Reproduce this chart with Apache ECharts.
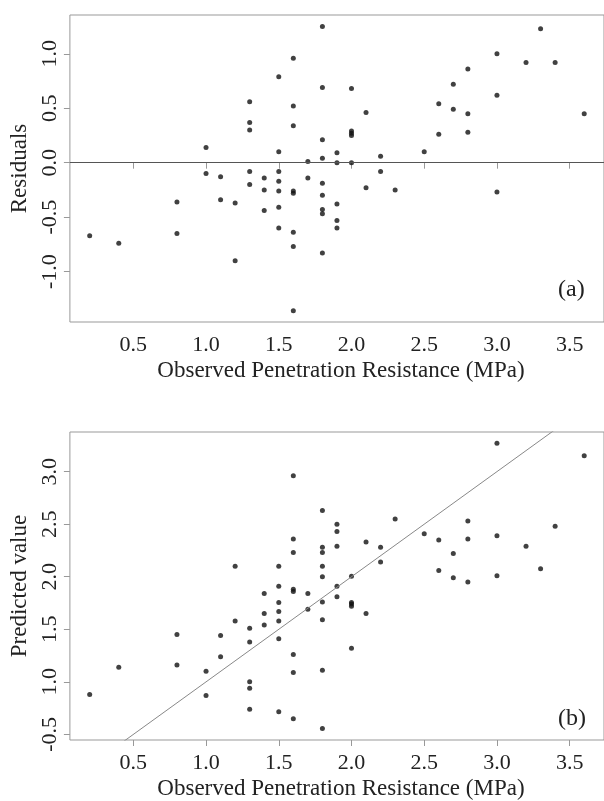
<!DOCTYPE html>
<html>
<head>
<meta charset="utf-8">
<script src="https://cdn.jsdelivr.net/npm/echarts@6/dist/echarts.min.js"></script>
<style>
html,body{margin:0;padding:0;background:#fff;}
#chart{width:604px;height:801px;}
</style>
</head>
<body>
<div id="chart"></div>
<script>
// Observed penetration resistance (MPa), grouped by value
const observed = [
  0.2,
  0.4,
  0.8, 0.8,
  1.0, 1.0,
  1.1, 1.1,
  1.2, 1.2,
  1.3, 1.3, 1.3, 1.3, 1.3,
  1.4, 1.4, 1.4,
  1.5, 1.5, 1.5, 1.5, 1.5, 1.5, 1.5,
  1.6, 1.6, 1.6, 1.6, 1.6, 1.6, 1.6, 1.6,
  1.7, 1.7,
  1.8, 1.8, 1.8, 1.8, 1.8, 1.8, 1.8, 1.8, 1.8,
  1.9, 1.9, 1.9, 1.9, 1.9,
  2.0, 2.0, 2.0, 2.0, 2.0,
  2.1, 2.1,
  2.2, 2.2,
  2.3,
  2.5,
  2.6, 2.6,
  2.7, 2.7,
  2.8, 2.8, 2.8,
  3.0, 3.0, 3.0,
  3.2,
  3.3,
  3.4,
  3.6
];
// Residuals (panel a)
const residuals = [
  -0.67,
  -0.74,
  -0.36, -0.65,
  0.14, -0.10,
  -0.13, -0.34,
  -0.37, -0.90,
  0.56, 0.37, 0.30, -0.08, -0.20,
  -0.14, -0.25, -0.44,
  0.79, 0.10, -0.08, -0.17, -0.26, -0.41, -0.60,
  0.96, 0.52, 0.34, -0.26, -0.28, -0.64, -0.77, -1.36,
  0.01, -0.14,
  1.25, 0.69, 0.21, 0.04, -0.19, -0.30, -0.43, -0.47, -0.83,
  0.09, 0.00, -0.38, -0.53, -0.60,
  0.68, 0.29, 0.27, 0.25, 0.00,
  0.46, -0.23,
  0.06, -0.08,
  -0.25,
  0.10,
  0.54, 0.26,
  0.72, 0.49,
  0.86, 0.45, 0.28,
  1.00, 0.62, -0.27,
  0.92,
  1.23,
  0.92,
  0.45
];
// Predicted values (panel b)
const predicted = [
  0.88,
  1.14,
  1.16, 1.45,
  0.87, 1.10,
  1.24, 1.44,
  1.58, 2.10,
  0.74, 0.94, 1.00, 1.38, 1.51,
  1.54, 1.65, 1.84,
  0.715, 1.41, 1.58, 1.67, 1.755, 1.91, 2.10,
  0.65, 1.09, 1.26, 1.86, 1.88, 2.23, 2.36, 2.96,
  1.69, 1.84,
  0.556, 1.11, 1.59, 1.76, 2.00, 2.10, 2.23, 2.28, 2.63,
  1.81, 1.91, 2.29, 2.43, 2.50,
  1.32, 1.72, 1.74, 1.755, 2.005,
  1.65, 2.33,
  2.14, 2.28,
  2.55,
  2.41,
  2.06, 2.35,
  1.99, 2.22,
  1.95, 2.36, 2.53,
  2.01, 2.39, 3.27,
  2.29,
  2.075,
  2.48,
  3.15
];
// Tick values and labels
const xTicks = [0.5, 1.0, 1.5, 2.0, 2.5, 3.0, 3.5];
const xTickLabels = ['0.5', '1.0', '1.5', '2.0', '2.5', '3.0', '3.5'];
const yTicksA = [-1.0, -0.5, 0.0, 0.5, 1.0];
const yTickLabelsA = ['-1.0', '-0.5', '0.0', '0.5', '1.0'];
const yTicksB = [0.5, 1.0, 1.5, 2.0, 2.5, 3.0];
const yTickLabelsB = ['-0.5', '1.0', '1.5', '2.0', '2.5', '3.0'];
// Reference lines
const zeroLine = [0];
const oneToOne = [0, 4];

const xTitle = 'Observed Penetration Resistance (MPa)';
const yTitleA = 'Residuals';
const yTitleB = 'Predicted value';
const panelLabels = ['(a)', '(b)'];

const FONT = "'Liberation Serif', 'DejaVu Serif', serif";
const TXT = '#222';
const BOX = '#999';

function lbl(ticks, labels) {
  return function (v) {
    for (let i = 0; i < ticks.length; i++) {
      if (Math.abs(ticks[i] - v) < 1e-6) return labels[i];
    }
    return '';
  };
}

function xAxis(gridIndex) {
  return {
    type: 'value', gridIndex: gridIndex,
    min: 0.064, max: 3.736,
    name: xTitle, nameLocation: 'middle', nameGap: 37,
    nameTextStyle: { fontFamily: FONT, fontSize: 23, color: TXT, padding: [0, 0, 0, 8] },
    axisLine: { show: false },
    axisTick: { show: true, length: 6, inside: false, customValues: xTicks, lineStyle: { color: BOX } },
    axisLabel: { show: true, customValues: xTicks, formatter: lbl(xTicks, xTickLabels),
      fontFamily: FONT, fontSize: 22, color: TXT, margin: 12 },
    splitLine: { show: false }
  };
}
function yAxis(gridIndex, min, max, ticks, labels, title) {
  return {
    type: 'value', gridIndex: gridIndex,
    min: min, max: max,
    name: title, nameLocation: 'middle', nameGap: 36, nameRotate: 90,
    nameTextStyle: { fontFamily: FONT, fontSize: 23, color: TXT },
    axisLine: { show: false },
    axisTick: { show: true, length: 6, customValues: ticks, lineStyle: { color: BOX } },
    axisLabel: { show: true, rotate: 90, customValues: ticks, formatter: lbl(ticks, labels),
      fontFamily: FONT, fontSize: 22, color: TXT, margin: 9 },
    splitLine: { show: false }
  };
}

const ptsA = observed.map((x, i) => [x, residuals[i]]);
const ptsB = observed.map((x, i) => [x, predicted[i]]);

const chart = echarts.init(document.getElementById('chart'), null, { renderer: 'canvas' });
chart.setOption({
  animation: false,
  backgroundColor: '#fff',
  grid: [
    { left: 69, top: 15, width: 539, height: 307, show: true, borderColor: BOX, borderWidth: 1, backgroundColor: 'transparent' },
    { left: 68, top: 432, width: 539, height: 308, show: true, borderColor: BOX, borderWidth: 1, backgroundColor: 'transparent' }
  ],
  xAxis: [xAxis(0), xAxis(1)],
  yAxis: [
    yAxis(0, -1.463, 1.356, yTicksA, yTickLabelsA, yTitleA),
    yAxis(1, 0.447, 3.377, yTicksB, yTickLabelsB, yTitleB)
  ],
  graphic: [
    { type: 'text', left: 558, top: 278, style: { text: panelLabels[0], font: "24px 'Liberation Serif'", fill: TXT } },
    { type: 'text', left: 558, top: 707, style: { text: panelLabels[1], font: "24px 'Liberation Serif'", fill: TXT } }
  ],
  series: [
    {
      type: 'scatter', xAxisIndex: 0, yAxisIndex: 0, data: ptsA,
      symbol: 'circle', symbolSize: 5, itemStyle: { color: '#111' }, silent: true,
      markLine: {
        silent: true, symbol: ['none', 'none'], label: { show: false },
        lineStyle: { color: '#555', width: 1, type: 'solid' },
        data: zeroLine.map(v => ({ yAxis: v }))
      }
    },
    {
      type: 'line', xAxisIndex: 1, yAxisIndex: 1,
      data: oneToOne.map(v => [v, v]), showSymbol: false, symbol: 'none', clip: true,
      lineStyle: { color: '#888', width: 1 }, silent: true
    },
    {
      type: 'scatter', xAxisIndex: 1, yAxisIndex: 1, data: ptsB,
      symbol: 'circle', symbolSize: 5, itemStyle: { color: '#111' }, silent: true
    }
  ]
});
</script>
</body>
</html>
